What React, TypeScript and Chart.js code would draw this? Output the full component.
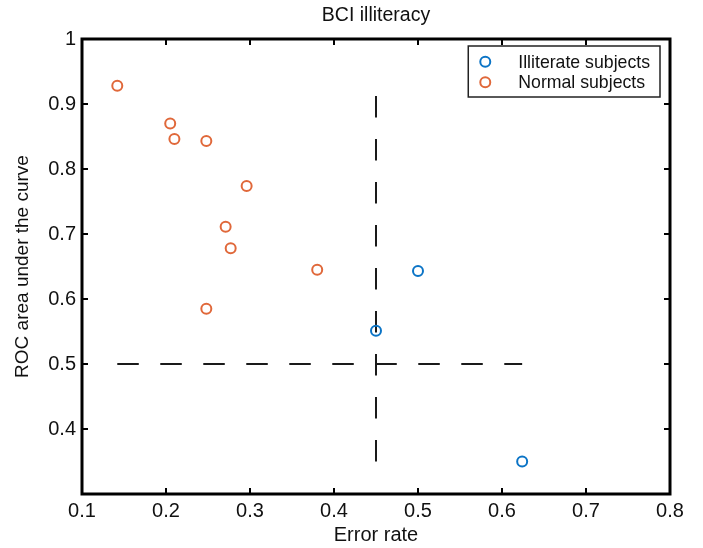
import React, { useEffect, useRef } from 'react';
import { Chart, registerables } from 'chart.js';

Chart.register(...registerables);

// ---- data ----
const illiterateError = [0.45, 0.5, 0.624];
const illiterateAUC = [0.551, 0.643, 0.35];
const normalError = [0.142, 0.205, 0.21, 0.248, 0.296, 0.271, 0.277, 0.38, 0.248];
const normalAUC = [0.928, 0.87, 0.846, 0.843, 0.774, 0.711, 0.678, 0.645, 0.585];
const xTickValues = [0.1, 0.2, 0.3, 0.4, 0.5, 0.6, 0.7, 0.8];
const yTickValues = [0.3, 0.4, 0.5, 0.6, 0.7, 0.8, 0.9, 1];
const yTickLabelsShown = [0.4, 0.5, 0.6, 0.7, 0.8, 0.9, 1];
const errorThreshold = 0.45;
const aucThreshold = 0.5;
const seriesLabels = ['Illiterate subjects', 'Normal subjects'];

const FONT = '"Liberation Sans", Arial, Helvetica, sans-serif';
const BLUE = '#0b74c6';
const ORANGE = '#e0683a';

const allErrors = [...illiterateError, ...normalError];
const allAUC = [...illiterateAUC, ...normalAUC];

const fmt = (v: number) => String(Number(v.toFixed(2)));

const framePlugin = {
  id: 'frameTicksLegend',
  afterDatasetsDraw(chart: any) {
    const { ctx, chartArea } = chart;
    const { left, right, top, bottom } = chartArea;
    const xs = chart.scales.x;
    const ys = chart.scales.y;
    ctx.save();
    ctx.strokeStyle = '#000';
    ctx.lineWidth = 2;
    ctx.beginPath();
    xs.ticks.forEach((t: any) => {
      const px = xs.getPixelForValue(t.value);
      ctx.moveTo(px, bottom);
      ctx.lineTo(px, bottom - 6);
      ctx.moveTo(px, top);
      ctx.lineTo(px, top + 6);
    });
    ys.ticks.forEach((t: any) => {
      const py = ys.getPixelForValue(t.value);
      ctx.moveTo(left, py);
      ctx.lineTo(left + 6, py);
      ctx.moveTo(right, py);
      ctx.lineTo(right - 6, py);
    });
    ctx.stroke();
    ctx.lineWidth = 3;
    ctx.strokeRect(left, top, right - left, bottom - top);

    // legend
    ctx.font = `17.7px ${FONT}`;
    const ds = chart.data.datasets.slice(0, 2);
    const textW = Math.max(...ds.map((d: any) => ctx.measureText(d.label).width));
    const boxW = 50 + textW + 10;
    const boxH = 51;
    const bx = right - 10 - boxW;
    const by = top + 7;
    ctx.fillStyle = '#fff';
    ctx.fillRect(bx, by, boxW, boxH);
    ctx.lineWidth = 1.5;
    ctx.strokeStyle = '#222';
    ctx.strokeRect(bx, by, boxW, boxH);
    ds.forEach((d: any, i: number) => {
      const cy = by + 15.7 + i * 20.6;
      ctx.beginPath();
      ctx.arc(bx + 17, cy, 5, 0, Math.PI * 2);
      ctx.lineWidth = 2;
      ctx.strokeStyle = d.borderColor;
      ctx.stroke();
      ctx.fillStyle = '#111';
      ctx.textAlign = 'left';
      ctx.textBaseline = 'middle';
      ctx.fillText(d.label, bx + 50, cy + 1);
    });
    ctx.restore();
  },
};

export default function App() {
  const ref = useRef<HTMLCanvasElement | null>(null);
  useEffect(() => {
    if (!ref.current) return;
    const pointDs = (label: string, xsArr: number[], ysArr: number[], color: string) => ({
      label,
      data: xsArr.map((x, i) => ({ x, y: ysArr[i] })),
      borderColor: color,
      backgroundColor: 'rgba(0,0,0,0)',
      pointRadius: 5,
      pointHoverRadius: 5,
      pointBorderWidth: 2,
      showLine: false,
    });
    const lineDs = (data: { x: number; y: number }[]) => ({
      label: '',
      data,
      showLine: true,
      borderColor: '#1a1a1a',
      borderWidth: 2,
      borderDash: [21.5, 21.5],
      pointRadius: 0,
      fill: false,
      borderCapStyle: 'butt',
    });
    const chart = new Chart(ref.current, {
      type: 'scatter',
      data: {
        datasets: [
          pointDs(seriesLabels[0], illiterateError, illiterateAUC, BLUE),
          pointDs(seriesLabels[1], normalError, normalAUC, ORANGE),
          lineDs([
            { x: Math.min(...allErrors), y: aucThreshold },
            { x: Math.max(...allErrors), y: aucThreshold },
          ]),
          lineDs([
            { x: errorThreshold, y: Math.min(...allAUC) },
            { x: errorThreshold, y: Math.max(...allAUC) },
          ]),
        ] as any,
      },
      options: {
        animation: false,
        responsive: false,
        devicePixelRatio: 1,
        layout: { padding: { top: 0, right: 33, bottom: 0, left: 0 } },
        plugins: {
          legend: { display: false },
          tooltip: { enabled: false },
          title: {
            display: true,
            text: 'BCI illiteracy',
            fullSize: false,
            color: '#111',
            font: { family: FONT, size: 19.5, weight: 'normal' },
            padding: { top: 4, bottom: 11.6 },
          },
        },
        scales: {
          x: {
            type: 'linear',
            min: xTickValues[0],
            max: xTickValues[xTickValues.length - 1],
            afterBuildTicks: (s: any) => {
              s.ticks = xTickValues.map((v) => ({ value: v }));
            },
            afterFit: (s: any) => {
              s.height = 54;
            },
            grid: { display: false, drawTicks: false },
            border: { display: false },
            ticks: {
              autoSkip: false,
              maxRotation: 0,
              padding: 5,
              color: '#111',
              font: { family: FONT, size: 20 },
              callback: (v: any) => fmt(Number(v)),
            },
            title: {
              display: true,
              text: 'Error rate',
              color: '#111',
              font: { family: FONT, size: 20 },
              padding: { top: 0, bottom: 1 },
            },
          },
          y: {
            type: 'linear',
            min: yTickValues[0],
            max: yTickValues[yTickValues.length - 1],
            afterBuildTicks: (s: any) => {
              s.ticks = yTickValues.map((v) => ({ value: v }));
            },
            afterFit: (s: any) => {
              s.width = 82;
            },
            grid: { display: false, drawTicks: false },
            border: { display: false },
            ticks: {
              autoSkip: false,
              padding: 6,
              color: '#111',
              font: { family: FONT, size: 20 },
              callback: (v: any) =>
                yTickLabelsShown.some((s) => Math.abs(s - Number(v)) < 1e-9) ? fmt(Number(v)) : '',
            },
            title: {
              display: true,
              text: 'ROC area under the curve',
              color: '#111',
              font: { family: FONT, size: 19 },
              padding: { top: 11, bottom: 0 },
            },
          },
        },
      } as any,
      plugins: [framePlugin],
    });
    return () => chart.destroy();
  }, []);
  return (
    <div style={{ position: 'fixed', left: 0, top: 0, width: 703, height: 548, background: '#fff' }}>
      <canvas ref={ref} width={703} height={548} style={{ display: 'block', width: 703, height: 548 }} />
    </div>
  );
}
